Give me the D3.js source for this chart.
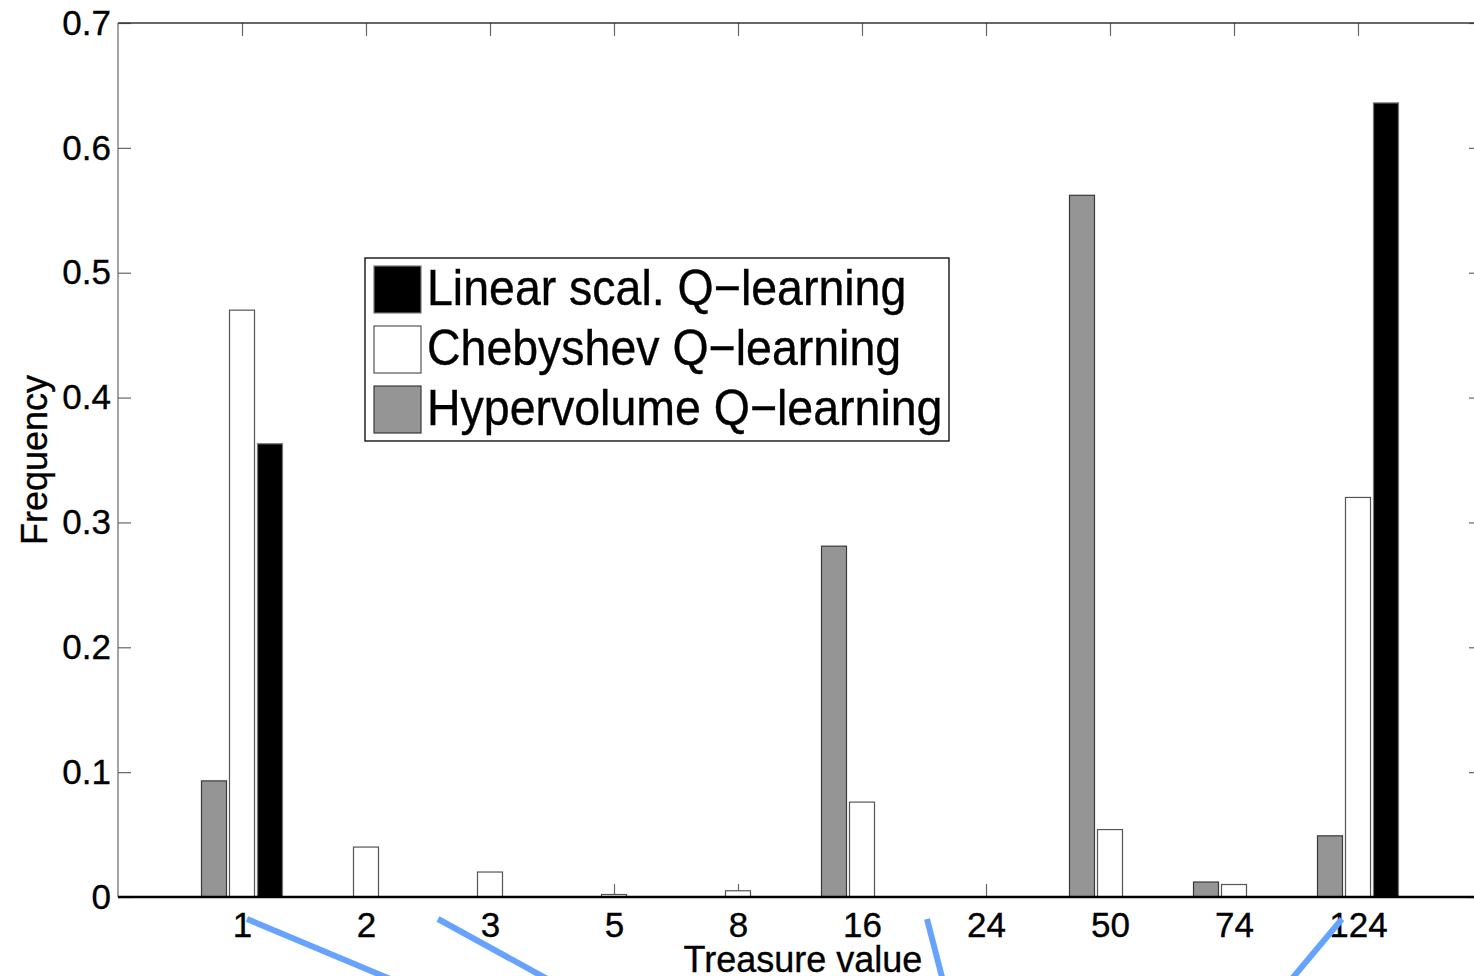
<!DOCTYPE html>
<html>
<head>
<meta charset="utf-8">
<script src="https://cdn.jsdelivr.net/npm/d3@7"></script>
<style>
  html, body { margin: 0; padding: 0; background: #fff; }
  svg { display: block; font-family: "Liberation Sans", Arial, Helvetica, sans-serif; }
  svg text { stroke: #000; stroke-width: 0.35px; }
</style>
</head>
<body>
<div id="chart"></div>
<script>
// treasure values on the x axis
let categories = ["1", "2", "3", "5", "8", "16", "24", "50", "74", "124"];
let seriesNames = ["Hypervolume Q\u2212learning", "Chebyshev Q\u2212learning", "Linear scal. Q\u2212learning"];
let hypervolume = [0.093, 0, 0, 0, 0, 0.281, 0, 0.562, 0.012, 0.049];
let chebyshev   = [0.470, 0.040, 0.020, 0.002, 0.005, 0.076, 0, 0.054, 0.010, 0.320];
let linear      = [0.363, 0, 0, 0, 0, 0, 0, 0, 0, 0.636];
let yTicks = [0, 0.1, 0.2, 0.3, 0.4, 0.5, 0.6, 0.7];
// blue annotation strokes, anchored on a tick label
let marks = [
  { cat: "1",   dx0: 5,   dx1: 153 },
  { cat: "3",   dx0: -52, dx1: 61 },
  { cat: "24",  dx0: -59, dx1: -43 },
  { cat: "124", dx0: -16, dx1: -68 }
];

let width = 1474, height = 976;
let pLeft = 118, pRight = 1482, pTop = 23, pBottom = 897;
let fills = { "Hypervolume Q\u2212learning": "#959595", "Chebyshev Q\u2212learning": "#ffffff", "Linear scal. Q\u2212learning": "#000000" };
let strokes = { "Hypervolume Q\u2212learning": "#3a3a3a", "Chebyshev Q\u2212learning": "#555555", "Linear scal. Q\u2212learning": "#777777" };
let values = { "Hypervolume Q\u2212learning": hypervolume, "Chebyshev Q\u2212learning": chebyshev, "Linear scal. Q\u2212learning": linear };

let svg = d3.select("#chart").append("svg")
  .attr("width", width)
  .attr("height", height);

let step = (pRight - pLeft) / (categories.length + 1);
let x = d3.scalePoint()
  .domain(categories)
  .range([pLeft + step, pRight - step]);

let xs = d3.scaleBand()
  .domain(seriesNames)
  .range([-42, 42])
  .paddingInner(0.107)
  .paddingOuter(0.0535);

let y = d3.scaleLinear()
  .domain([0, 0.7])
  .range([pBottom, pTop]);

// axes (ticks point inward)
let gx = svg.append("g")
  .attr("transform", "translate(0," + pBottom + ")")
  .call(d3.axisBottom(x).tickSizeInner(-13).tickSizeOuter(0).tickPadding(15));
let gxTop = svg.append("g")
  .attr("transform", "translate(0," + pTop + ")")
  .call(d3.axisTop(x).tickSizeInner(-13).tickSizeOuter(0).tickFormat(""));
let gy = svg.append("g")
  .attr("transform", "translate(" + pLeft + ",0)")
  .call(d3.axisLeft(y).tickValues(yTicks).tickFormat(d => d === 0 ? "0" : d3.format(".1f")(d)).tickSizeInner(-13).tickSizeOuter(0).tickPadding(7));
let gyRight = svg.append("g")
  .attr("transform", "translate(" + pRight + ",0)")
  .call(d3.axisRight(y).tickValues(yTicks).tickSizeInner(-13).tickSizeOuter(0).tickFormat(""));

[gx, gxTop, gy, gyRight].forEach(g => {
  g.selectAll(".tick line").attr("stroke", "#666").attr("stroke-width", 1.2);
  g.selectAll(".tick text").attr("fill", "#000").style("font-size", "35px");
  g.attr("font-family", null);
  g.select(".domain").remove();
});
gx.selectAll(".tick text").attr("dy", "0.72em");

// frame lines
svg.append("line").attr("x1", pLeft).attr("x2", pRight).attr("y1", pTop).attr("y2", pTop)
  .attr("stroke", "#333").attr("stroke-width", 1.6);
svg.append("line").attr("x1", pLeft).attr("x2", pLeft).attr("y1", pTop).attr("y2", pBottom)
  .attr("stroke", "#666").attr("stroke-width", 1.2);
svg.append("line").attr("x1", pRight).attr("x2", pRight).attr("y1", pTop).attr("y2", pBottom)
  .attr("stroke", "#666").attr("stroke-width", 1.2);

// bars
let groups = svg.append("g").selectAll("g")
  .data(categories)
  .enter().append("g")
  .attr("transform", d => "translate(" + x(d) + ",0)");

groups.selectAll("rect")
  .data((c, i) => seriesNames.map(s => ({ s: s, v: values[s][i] })))
  .enter().append("rect")
  .attr("x", d => xs(d.s))
  .attr("width", xs.bandwidth())
  .attr("y", d => y(d.v))
  .attr("height", d => y(0) - y(d.v))
  .attr("fill", d => fills[d.s])
  .attr("stroke", d => strokes[d.s])
  .attr("stroke-width", 1.2)
  .style("display", d => d.s === "Linear scal. Q\u2212learning" && d.v === 0 ? "none" : null);

// base line
svg.append("line").attr("x1", pLeft).attr("x2", pRight).attr("y1", pBottom).attr("y2", pBottom)
  .attr("stroke", "#000").attr("stroke-width", 2.4);

// axis titles
svg.append("text")
  .attr("x", 803)
  .attr("y", 972)
  .attr("text-anchor", "middle")
  .style("font-size", "36px")
  .text("Treasure value");

svg.append("text")
  .attr("transform", "translate(47," + ((pTop + pBottom) / 2) + ") rotate(-90)")
  .attr("text-anchor", "middle")
  .style("font-size", "36px")
  .text("Frequency");

// legend
let legendOrder = ["Linear scal. Q\u2212learning", "Chebyshev Q\u2212learning", "Hypervolume Q\u2212learning"];
let legend = svg.append("g").attr("transform", "translate(365,258)");
legend.append("rect")
  .attr("width", 584).attr("height", 183)
  .attr("fill", "#fff").attr("stroke", "#000").attr("stroke-width", 1.3);
let keys = legend.selectAll(".key")
  .data(legendOrder)
  .enter().append("g")
  .attr("class", "key")
  .attr("transform", (d, i) => "translate(9," + (8 + i * 60) + ")");
keys.append("rect")
  .attr("width", 47).attr("height", 47)
  .attr("fill", d => fills[d])
  .attr("stroke", d => strokes[d])
  .attr("stroke-width", 1.2);
keys.append("text")
  .attr("transform", "translate(53,39) scale(1,1.08)")
  .style("font-size", "46.5px")
  .text(d => d);

// blue annotation strokes
svg.append("g").selectAll("line")
  .data(marks)
  .enter().append("line")
  .attr("x1", d => x(d.cat) + d.dx0)
  .attr("y1", pBottom + 22)
  .attr("x2", d => x(d.cat) + d.dx1)
  .attr("y2", height + 5)
  .attr("stroke", "#66a3ff")
  .attr("stroke-width", 6);
</script>
</body>
</html>
